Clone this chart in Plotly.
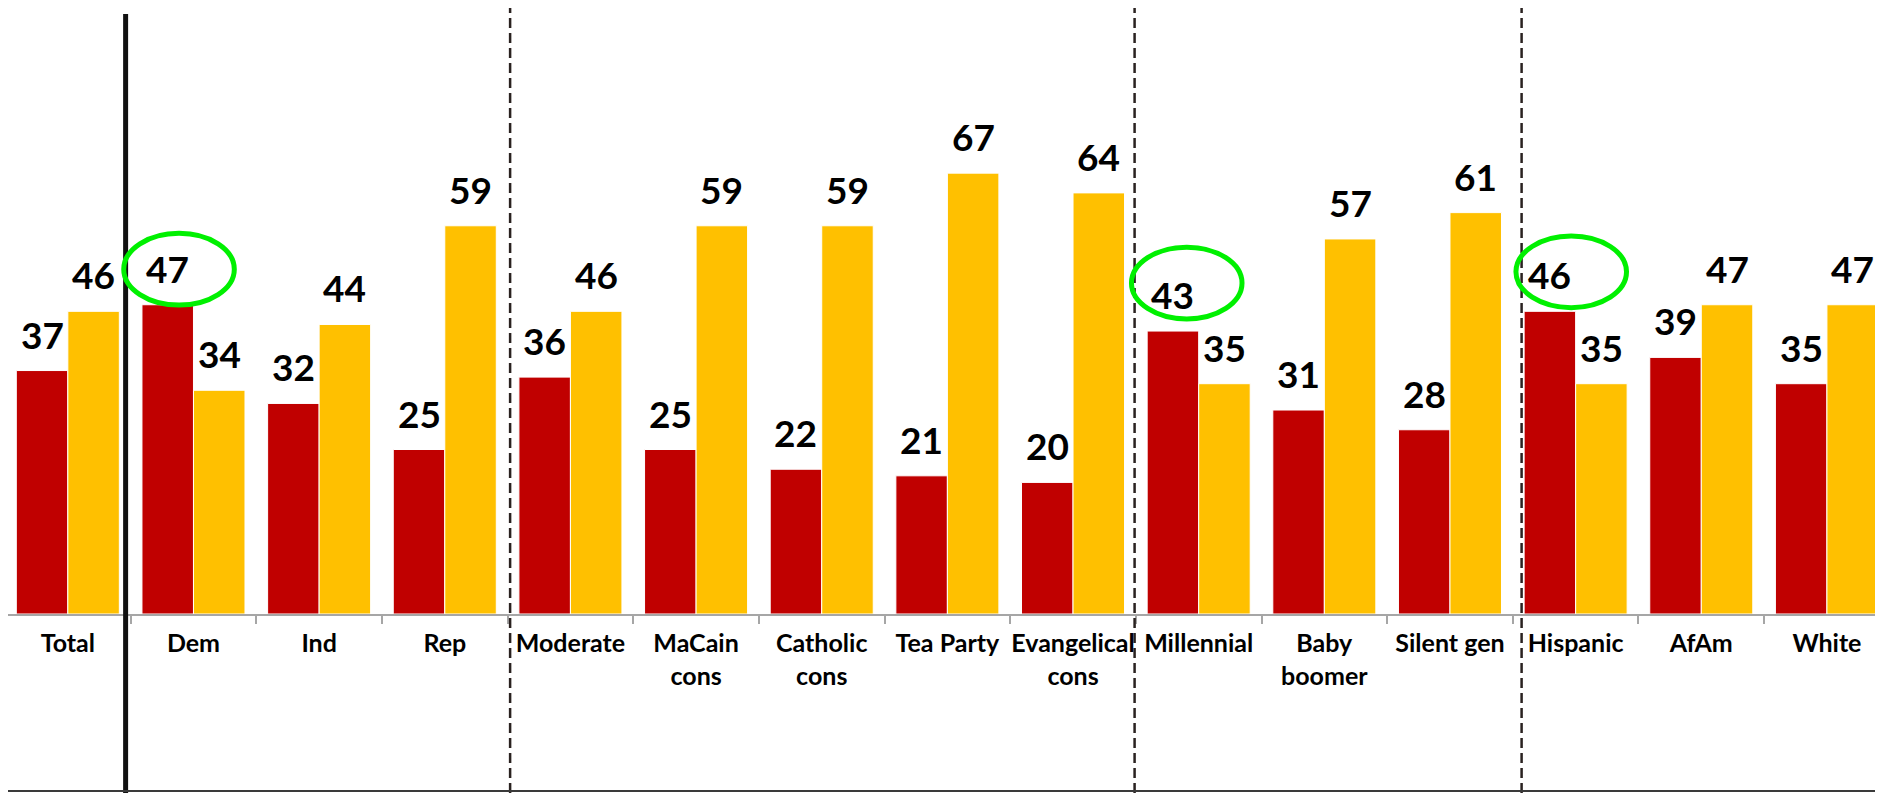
import plotly.graph_objects as go

# ---------------- data ----------------
categories = ["Total", "Dem", "Ind", "Rep", "Moderate", "MaCain<br>cons", "Catholic<br>cons",
              "Tea Party", "Evangelical<br>cons", "Millennial", "Baby<br>boomer", "Silent gen",
              "Hispanic", "AfAm", "White"]
series_red = [37, 47, 32, 25, 36, 25, 22, 21, 20, 43, 31, 28, 46, 39, 35]
series_yellow = [46, 34, 44, 59, 46, 59, 59, 67, 64, 35, 57, 61, 35, 47, 47]
highlighted = ["Dem", "Millennial", "Hispanic"]   # red values circled in green

# ---------------- style / layout ----------------
RED = "#C00000"
YELLOW = "#FFC000"
GREEN = "#00F000"
FONT = "Lato"
BARGAP = 0.18
# the page body has an 8px margin, so the figure is sized to fill the rest of the window
W, H = 1875, 785
MB = 179
PLOT_H = H - MB                      # 606 px
PX_PER_UNIT = 6.58
Y_MAX = PLOT_H / PX_PER_UNIT
CAT_PX = 125.65
X0 = -0.5 + 3 / CAT_PX
X_RANGE = [X0, X0 + W / CAT_PX]
ellipse_offsets = [(0.09, 5.4), (0.11, 7.3), (0.17, 6.0)]  # (dx, dy) of ellipse centre from red label
ellipse_size = (0.88, 10.9)
separators = [(0.46, "solid"), (3.52, "dash"), (8.49, "dash"), (11.57, "dash")]

fig = go.Figure()
for name, vals, col in [("Series 1", series_red, RED), ("Series 2", series_yellow, YELLOW)]:
    fig.add_trace(go.Bar(
        x=categories, y=vals, name=name,
        marker=dict(color=col, line=dict(color="white", width=1)),
        showlegend=False, hoverinfo="x+y",
    ))

half = (1 - BARGAP) / 4
annotations = []
for i, cat in enumerate(categories):
    for vals, off in [(series_red, -half), (series_yellow, half)]:
        annotations.append(dict(
            x=i + off, y=vals[i], xref="x", yref="y", text=str(vals[i]),
            showarrow=False, yanchor="bottom", xanchor="center", yshift=12,
            font=dict(family=FONT, size=37, color="black", weight="bold"),
        ))

shapes = []
bottom_paper = -MB / PLOT_H
for xpos, kind in separators:
    if kind == "solid":
        shapes.append(dict(type="line", xref="x", yref="paper", x0=xpos, x1=xpos,
                           y0=bottom_paper, y1=1 - 6 / PLOT_H,
                           line=dict(color="#111111", width=5)))
    else:
        shapes.append(dict(type="line", xref="x", yref="paper", x0=xpos, x1=xpos,
                           y0=bottom_paper, y1=1,
                           line=dict(color="#2a2220", width=2.5, dash="10px,5px")))

for (dx, dy), cat in zip(ellipse_offsets, highlighted):
    i = categories.index(cat)
    cx = i - half + dx
    cy = series_red[i] + dy
    shapes.append(dict(type="circle", xref="x", yref="y",
                       x0=cx - ellipse_size[0] / 2, x1=cx + ellipse_size[0] / 2,
                       y0=cy - ellipse_size[1] / 2, y1=cy + ellipse_size[1] / 2,
                       line=dict(color=GREEN, width=5)))

# bottom frame line
yb = -(MB - 2) / PLOT_H
shapes.append(dict(type="line", xref="paper", yref="paper", x0=0, x1=1, y0=yb, y1=yb,
                   line=dict(color="#3a3a3a", width=2)))

fig.update_layout(
    template="none",
    width=W, height=H,
    margin=dict(l=0, r=0, t=0, b=MB, pad=0, autoexpand=False),
    paper_bgcolor="white", plot_bgcolor="white",
    barmode="group", bargap=BARGAP, bargroupgap=0,
    annotations=annotations, shapes=shapes,
    xaxis=dict(type="category", range=X_RANGE, showline=True, linecolor="#A6A6A6", linewidth=2,
               ticks="outside", tickson="boundaries", ticklen=8, tickwidth=2, tickcolor="#A6A6A6",
               tickangle=0, automargin=False,
               tickfont=dict(family=FONT, size=25, color="black", weight="bold"),
               ticklabelstandoff=6, showgrid=False, zeroline=False, fixedrange=True),
    yaxis=dict(range=[0, Y_MAX], visible=False, showgrid=False, zeroline=False, fixedrange=True,
               automargin=False),
)

fig.write_html("out.html", config={"displayModeBar": False})
